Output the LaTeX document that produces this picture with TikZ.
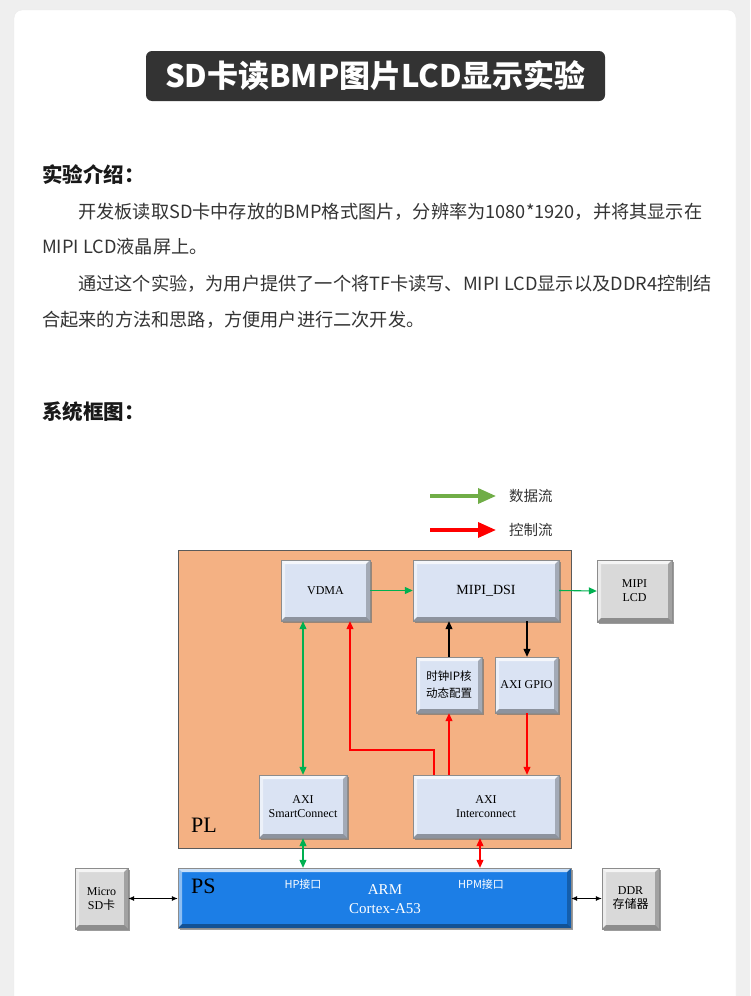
\documentclass[tikz,border=0pt]{standalone}
\usepackage{fontspec}
\setmainfont{Liberation Serif}
\newfontfamily\cjk{Noto Sans CJK SC}
\usetikzlibrary{arrows.meta,shadows}
\definecolor{pagebg}{HTML}{EFEFEF}
\definecolor{titlebg}{HTML}{333333}
\definecolor{txt}{HTML}{333333}
\definecolor{plfill}{HTML}{F4B183}
\definecolor{plline}{HTML}{5A5A5A}
\definecolor{boxblue}{HTML}{DAE3F3}
\definecolor{boxgray}{HTML}{D9D9D9}
\definecolor{psblue}{HTML}{1C7EE6}
\definecolor{dgreen}{HTML}{00B050}
\definecolor{lgreen}{HTML}{70AD47}
\definecolor{cred}{HTML}{FF0000}
\tikzset{
  bevelbox/.style={rectangle, inner sep=0pt, fill=#1, draw=black!45, line width=0.4pt,
    drop shadow={shadow xshift=2pt, shadow yshift=-2pt, fill=black!55, opacity=0.7},
    path picture={
      \fill[white,opacity=0.75] (path picture bounding box.north west) -- (path picture bounding box.north east)
        -- ([shift={(-4pt,-4pt)}]path picture bounding box.north east) -- ([shift={(4pt,-4pt)}]path picture bounding box.north west) -- cycle;
      \fill[white,opacity=0.5] (path picture bounding box.north west) -- (path picture bounding box.south west)
        -- ([shift={(4pt,4pt)}]path picture bounding box.south west) -- ([shift={(4pt,-4pt)}]path picture bounding box.north west) -- cycle;
      \fill[black,opacity=0.35] (path picture bounding box.south west) -- (path picture bounding box.south east)
        -- ([shift={(-4pt,4pt)}]path picture bounding box.south east) -- ([shift={(4pt,4pt)}]path picture bounding box.south west) -- cycle;
      \fill[black,opacity=0.25] (path picture bounding box.north east) -- (path picture bounding box.south east)
        -- ([shift={(-4pt,4pt)}]path picture bounding box.south east) -- ([shift={(-4pt,-4pt)}]path picture bounding box.north east) -- cycle;
    }},
  blk/.style={bevelbox=boxblue, font=\fontsize{12}{14}\selectfont, align=center, text=black},
  gry/.style={bevelbox=boxgray, font=\fontsize{12}{14}\selectfont, align=center, text=black},
  dat/.style={draw=dgreen, line width=1.1pt, -{Triangle[length=8pt,width=7pt]}},
  datb/.style={draw=dgreen, line width=1.1pt, {Triangle[length=8pt,width=7pt]}-{Triangle[length=8pt,width=7pt]}},
  ctl/.style={draw=cred, line width=1.1pt, -{Triangle[length=8pt,width=7pt]}},
  ctlb/.style={draw=cred, line width=1.1pt, {Triangle[length=8pt,width=7pt]}-{Triangle[length=8pt,width=7pt]}},
  bla/.style={draw=black, line width=1.1pt, -{Triangle[length=8pt,width=7pt]}},
  blab/.style={draw=black, line width=0.8pt, {Latex[length=6pt,width=5pt]}-{Latex[length=6pt,width=5pt]}},
  para/.style={anchor=west, text=txt, font=\cjk\fontsize{18.2}{21}\selectfont, inner sep=0pt},
  head/.style={anchor=west, text=black!90, font=\cjk\bfseries\fontsize{20.5}{24}\selectfont, inner sep=0pt},
  legtxt/.style={anchor=west, text=txt, font=\cjk\fontsize{14.5}{16}\selectfont, inner sep=0pt}
}
\begin{document}
\begin{tikzpicture}[x=1pt,y=-1pt]
\useasboundingbox (0,0) rectangle (750,996);
\clip (0,0) rectangle (750,996);
\fill[pagebg] (0,0) rectangle (750,996);
\fill[white, draw=black!8, rounded corners=8pt] (14,10) rectangle (736,1020);
% title
\node[fill=titlebg, rounded corners=6pt, minimum width=459pt, minimum height=50pt, inner sep=0pt,
  text=white, font=\cjk\bfseries\fontsize{31}{34}\selectfont] (title) at (375.5,76) {SD卡读BMP图片LCD显示实验};
% intro
\node[head] (h1) at (42,175) {实验介绍：};
\node[para] (p1) at (78,212) {开发板读取SD卡中存放的BMP格式图片，分辨率为1080*1920，并将其显示在};
\node[para] (p2) at (42,247) {MIPI LCD液晶屏上。};
\node[para] (p3) at (78,284) {通过这个实验，为用户提供了一个将TF卡读写、MIPI LCD显示以及DDR4控制结};
\node[para] (p4) at (42,320) {合起来的方法和思路，方便用户进行二次开发。};
\node[head] (h2) at (42,412) {系统框图：};
% legend
\coordinate (lg1a) at (430,496); \coordinate (lg1b) at (496,496);
\coordinate (lg2a) at (430,530); \coordinate (lg2b) at (496,530);
\draw[draw=lgreen, line width=3.5pt, -{Triangle[length=18pt,width=15pt]}] (lg1a) -- (lg1b);
\draw[draw=cred, line width=3.5pt, -{Triangle[length=18pt,width=15pt]}] (lg2a) -- (lg2b);
\node[legtxt] (lt1) at (509,496) {数据流};
\node[legtxt] (lt2) at (509,530) {控制流};
% PL region
\node[rectangle, fill=plfill, draw=plline, line width=0.8pt, minimum width=393pt, minimum height=298pt, inner sep=0pt] (pl) at (374.5,699) {};
\node[anchor=west, font=\fontsize{22}{24}\selectfont, inner sep=0pt] (pllab) at (191,825) {PL};
% boxes
\node[blk, minimum width=89pt, minimum height=61pt] (vdma) at (325.5,590.5) {VDMA};
\node[blk, minimum width=146pt, minimum height=61pt, font=\fontsize{14}{16}\selectfont] (dsi) at (486,590.5) {MIPI\_DSI};
\node[blk, minimum width=66pt, minimum height=56pt, font=\cjk\fontsize{11.5}{17}\selectfont] (clk) at (449,685) {时钟IP核\\动态配置};
\node[blk, minimum width=63pt, minimum height=56pt] (gpio) at (526.5,685) {AXI GPIO};
\node[blk, minimum width=88pt, minimum height=63pt] (asc) at (303,806.5) {AXI\\SmartConnect};
\node[blk, minimum width=146pt, minimum height=63pt] (aint) at (486,806.5) {AXI\\Interconnect};
\node[gry, minimum width=75pt, minimum height=62pt] (lcd) at (634.5,591) {MIPI\\LCD};
\node[gry, minimum width=53pt, minimum height=61pt] (sd) at (101.5,898.5) {Micro\\SD{\cjk 卡}};
\node[gry, minimum width=57pt, minimum height=61pt] (ddr) at (630.5,898.5) {DDR\\{\cjk 存储器}};
% PS
\node[bevelbox=psblue, minimum width=393pt, minimum height=60pt] (ps) at (374.5,898) {};
\node[anchor=west, font=\fontsize{22}{24}\selectfont, inner sep=0pt] (pslab) at (191,886) {PS};
\node[text=white, font=\cjk\fontsize{11}{12}\selectfont, inner sep=0pt] (hp) at (303,884) {HP接口};
\node[text=white, font=\cjk\fontsize{11}{12}\selectfont, inner sep=0pt] (hpm) at (481,884) {HPM接口};
\node[text=white, font=\fontsize{15}{19}\selectfont, align=center, inner sep=0pt] (arm) at (385,899) {ARM\\Cortex-A53};
% connectors
\draw[dat] (vdma.east) -- (dsi.west);
\draw[dat] (dsi.east) -- (lcd.west);
\coordinate (gx) at (303,0);
\draw[datb] (vdma.south -| gx) -- (asc.north);
\draw[datb] (asc.south) -- (ps.north -| asc.south);
\coordinate (r1) at (434,750); \coordinate (r2) at (350,750);
\draw[ctl] (aint.north -| r1) -- (r1) -- (r2) -- (vdma.south -| r2);
\draw[ctl] (aint.north -| clk.south) -- (clk.south);
\draw[bla] (clk.north) -- (dsi.south -| clk.north);
\coordinate (bx) at (527,0);
\draw[bla] (dsi.south -| bx) -- (gpio.north -| bx);
\draw[ctl] (gpio.south -| bx) -- (aint.north -| bx);
\coordinate (hx) at (480,0);
\draw[ctlb] (aint.south -| hx) -- (ps.north -| hx);
\draw[blab] (sd.east) -- (ps.west |- sd.east);
\draw[blab] (ps.east |- ddr.west) -- (ddr.west);
\end{tikzpicture}
\end{document}
